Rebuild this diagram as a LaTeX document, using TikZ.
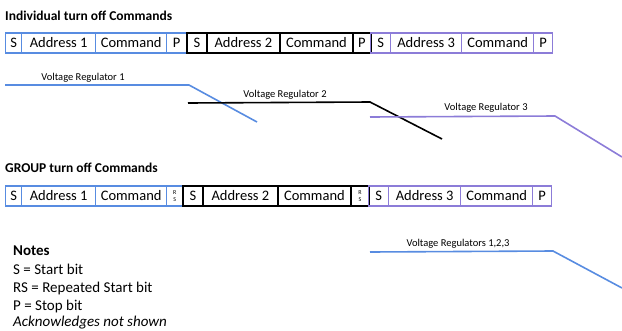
\documentclass[tikz,border=0pt]{standalone}
\usepackage{fontspec}
\setmainfont{Carlito}
\definecolor{vblue}{RGB}{88,140,225}
\definecolor{vpurple}{RGB}{140,124,216}
\begin{document}
\begin{tikzpicture}[x=1pt,y=-1pt,
  cell/.style={draw, minimum height=20pt, inner sep=0pt, anchor=west, font=\fontsize{14.5}{15}\selectfont},
  bcell/.style={cell, draw=vblue, line width=1.3pt},
  kcell/.style={cell, draw=black, line width=1.8pt},
  pcell/.style={cell, draw=vpurple, line width=1.3pt},
  rs/.style={align=center, font=\fontsize{6}{6.5}\selectfont},
  title/.style={anchor=west, inner sep=0pt, font=\bfseries\fontsize{13.5}{15}\selectfont},
  vlabel/.style={inner sep=0pt, font=\fontsize{10.5}{11}\selectfont},
  wave/.style={line width=1.6pt},
  note/.style={anchor=west, inner sep=0pt, font=\fontsize{15}{16}\selectfont}]
\useasboundingbox (0,0) rectangle (622,330);
% titles
\node[title] (t1) at (5,16) {Individual turn off Commands};
\node[title] (t2) at (5,168) {GROUP turn off Commands};
% row 1
\node[bcell, minimum width=16pt] (a1) at (5,43) {S};
\node[bcell, minimum width=74pt] (a2) at (21,43) {Address 1};
\node[bcell, minimum width=71pt] (a3) at (95,43) {Command};
\node[bcell, minimum width=20pt] (a4) at (166,43) {P};
\node[kcell, minimum width=20pt] (a5) at (186,43) {S};
\node[kcell, minimum width=73pt] (a6) at (206,43) {Address 2};
\node[kcell, minimum width=73pt] (a7) at (279,43) {Command};
\node[kcell, minimum width=18pt] (a8) at (352,43) {P};
\node[pcell, minimum width=20pt] (a9) at (370,43) {S};
\node[pcell, minimum width=71pt] (a10) at (390,43) {Address 3};
\node[pcell, minimum width=72pt] (a11) at (461,43) {Command};
\node[pcell, minimum width=19pt] (a12) at (533,43) {P};
% row 2
\node[bcell, minimum width=16pt] (b1) at (5,196) {S};
\node[bcell, minimum width=74pt] (b2) at (21,196) {Address 1};
\node[bcell, minimum width=71pt] (b3) at (95,196) {Command};
\node[bcell, minimum width=16pt, rs] (b4) at (166,196) {R\\S};
\node[kcell, minimum width=20pt] (b5) at (182,196) {S};
\node[kcell, minimum width=75pt] (b6) at (202,196) {Address 2};
\node[kcell, minimum width=73pt] (b7) at (277,196) {Command};
\node[kcell, minimum width=18pt, rs] (b8) at (350,196) {R\\S};
\node[pcell, minimum width=20pt] (b9) at (368,196) {S};
\node[pcell, minimum width=72pt] (b10) at (388,196) {Address 3};
\node[pcell, minimum width=72pt] (b11) at (460,196) {Command};
\node[pcell, minimum width=19pt] (b12) at (532,196) {P};
% voltage regulator lines
\coordinate (v1a) at (5,85);
\coordinate (v1b) at (189,85);
\coordinate (v1c) at (257,122);
\coordinate (v2a) at (188,103);
\coordinate (v2b) at (370,102);
\coordinate (v2c) at (442,139);
\coordinate (v3a) at (370,117);
\coordinate (v3b) at (555,116);
\coordinate (v3c) at (622,157);
\coordinate (g1a) at (370,252);
\coordinate (g1b) at (553,251);
\coordinate (g1c) at (622,288);
\draw[wave, vblue] (v1a) -- (v1b) -- (v1c);
\draw[wave, black] (v2a) -- (v2b) -- (v2c);
\draw[wave, vpurple] (v3a) -- (v3b) -- (v3c);
\draw[wave, vblue] (g1a) -- (g1b) -- (g1c);
\node[vlabel] (l1) at (83,78) {Voltage Regulator 1};
\node[vlabel] (l2) at (285,95) {Voltage Regulator 2};
\node[vlabel] (l3) at (486,108) {Voltage Regulator 3};
\node[vlabel] (l4) at (458,244) {Voltage Regulators 1,2,3};
% notes
\node[note, font=\bfseries\fontsize{15}{16}\selectfont] (n0) at (13,251) {Notes};
\node[note] (n1) at (13,269) {S = Start bit};
\node[note] (n2) at (13,288) {RS = Repeated Start bit};
\node[note] (n3) at (13,306) {P = Stop bit};
\node[note, font=\itshape\fontsize{15}{16}\selectfont] (n4) at (13,323) {Acknowledges not shown};
\end{tikzpicture}
\end{document}
